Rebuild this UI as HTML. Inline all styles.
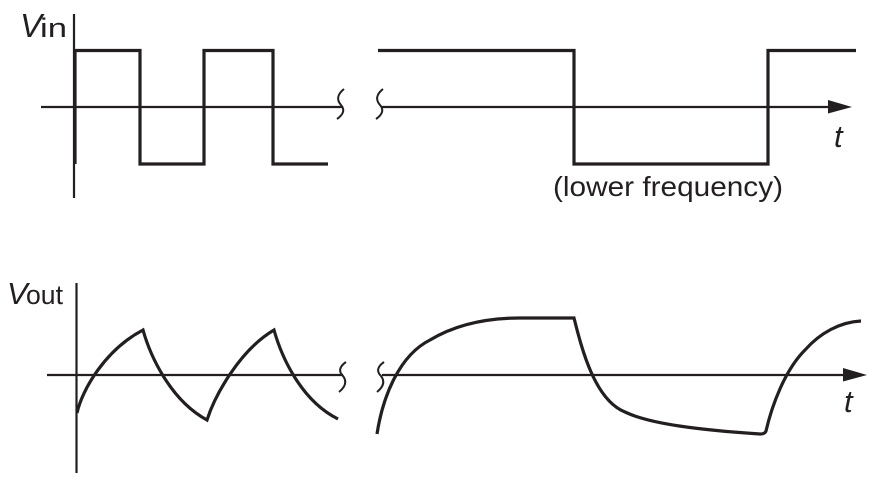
<!DOCTYPE html>
<html>
<head>
<meta charset="utf-8">
<style>
  html, body { margin: 0; padding: 0; background: #ffffff; }
  body { width: 875px; height: 485px; overflow: hidden; }
  svg { display: block; }
  text { font-family: "Liberation Sans", "DejaVu Sans", sans-serif; fill: #231f20; }
</style>
</head>
<body>
<svg width="875" height="485" viewBox="0 0 875 485" xmlns="http://www.w3.org/2000/svg">
  <g fill="none" stroke="#231f20" stroke-linecap="butt" stroke-linejoin="miter">
    <!-- ===== TOP PANEL ===== -->
    <line x1="74" y1="14" x2="74" y2="198" stroke-width="2.2"/>
    <line x1="41" y1="107" x2="343" y2="107" stroke-width="2.2"/>
    <line x1="382" y1="107" x2="832" y2="107" stroke-width="2.2"/>
    <path d="M344,89 Q334,97 341,105 Q347,112 337,119" stroke-width="2"/>
    <path d="M383,89 Q373,97 380,105 Q386,112 376,119" stroke-width="2"/>
    <path d="M75,164 L75,50.5 L140,50.5 L140,164 L204,164 L204,50.5 L273,50.5 L273,164 L328,164" stroke-width="3.2"/>
    <path d="M378,50.5 L574,50.5 L574,164 L768,164 L768,50.5 L856,50.5" stroke-width="3.2"/>

    <!-- ===== BOTTOM PANEL ===== -->
    <line x1="76.5" y1="283" x2="76.5" y2="473" stroke-width="2.2"/>
    <line x1="47" y1="375" x2="343" y2="375" stroke-width="2.2"/>
    <line x1="382" y1="375" x2="846" y2="375" stroke-width="2.2"/>
    <path d="M346,362 Q336,369 343,376 Q349,384 339,392" stroke-width="2"/>
    <path d="M384,362 Q374,369 381,376 Q387,384 377,392" stroke-width="2"/>
    <path d="M77,413 C82,390 105,350 143,330 C150,355 170,400 207,420 C215,395 240,350 274,330 C281,355 300,400 338,419" stroke-width="3.2"/>
    <path d="M377,434 C383,395 400,355 430,340 C455,325 485,318 520,318 L574,318 C582,350 595,400 625,412 C650,424 700,430 760,434 Q765,434 766,431 C772,405 785,370 805,350 C820,333 840,322 861,321" stroke-width="3.2"/>
  </g>

  <polygon points="828,100 852,107 828,113.5" fill="#231f20"/>
  <polygon points="843,368 867,375 843,381.5" fill="#231f20"/>

  <text x="20" y="37" font-size="33" font-style="italic">V</text>
  <text x="40" y="37" font-size="27" textLength="27" lengthAdjust="spacingAndGlyphs">in</text>

  <text x="7" y="304" font-size="31" font-style="italic">V</text>
  <text x="26" y="304" font-size="27" textLength="37" lengthAdjust="spacingAndGlyphs">out</text>

  <text x="834" y="147" font-size="31" font-style="italic">t</text>
  <text x="844" y="412" font-size="31" font-style="italic">t</text>

  <text x="553" y="196" font-size="28" textLength="230" lengthAdjust="spacingAndGlyphs">(lower frequency)</text>
</svg>
</body>
</html>
